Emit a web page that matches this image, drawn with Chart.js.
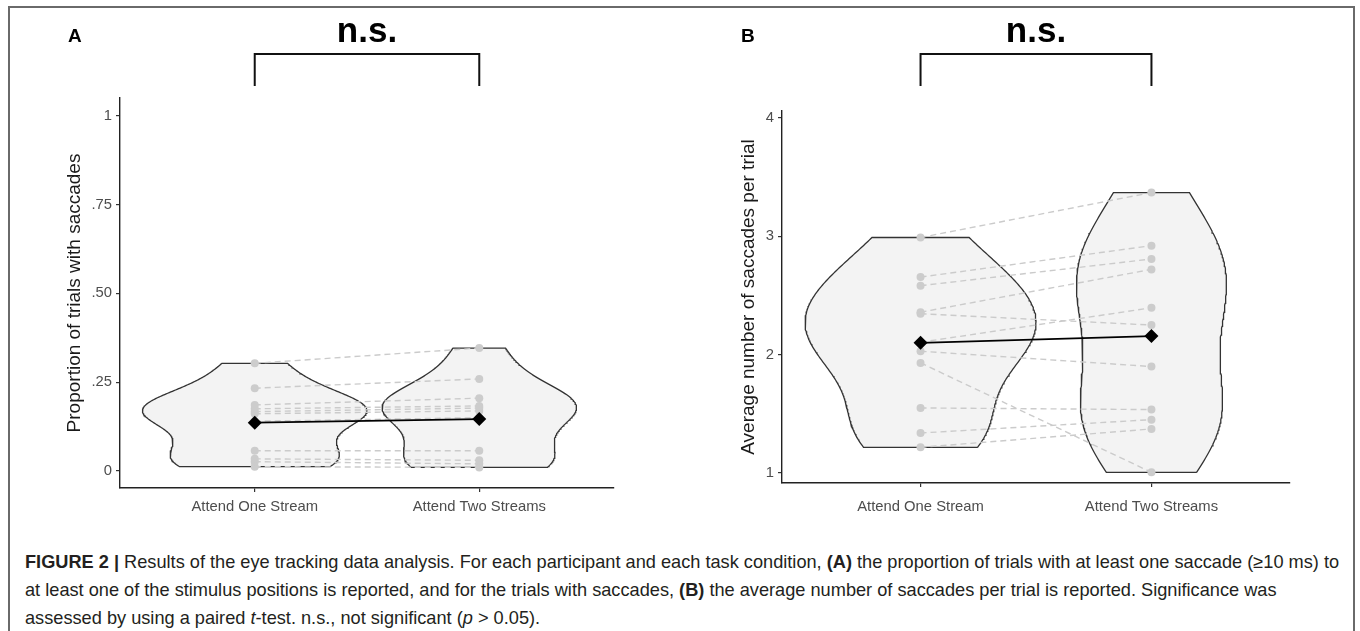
<!DOCTYPE html>
<html>
<head>
<meta charset="utf-8">
<script src="https://cdn.jsdelivr.net/npm/chart.js@4.4.1/dist/chart.umd.min.js"></script>
<style>
  body { margin: 0; width: 1360px; height: 631px; background: #fff; overflow: hidden; position: relative;
         font-family: "Liberation Sans", Arial, Helvetica, sans-serif; }
  #frame { position: absolute; left: 8px; top: 6px; width: 1347px; height: 660px; border: 2px solid #6a6a6a; box-sizing: border-box; }
  canvas { position: absolute; top: 0; }
  #chartA { left: 0; }
  #chartB { left: 680px; }
  #caption { position: absolute; left: 25px; top: 548px; font-size: 18.2px; line-height: 28px; color: #231f20; white-space: nowrap; }
</style>
</head>
<body>
<div id="frame"></div>
<canvas id="chartA" width="680" height="520"></canvas>
<canvas id="chartB" width="680" height="520"></canvas>
<div id="caption"><b>FIGURE 2 |</b> Results of the eye tracking data analysis. For each participant and each task condition, <b>(A)</b> the proportion of trials with at least one saccade (≥10 ms) to<br>at least one of the stimulus positions is reported, and for the trials with saccades, <b>(B)</b> the average number of saccades per trial is reported. Significance was<br>assessed by using a paired <i>t</i>-test. n.s., not significant (<i>p</i> &gt; 0.05).</div>
<script>
// conditions on the x axis
const categories = ["Attend One Stream", "Attend Two Streams"];

// panel A: proportion of trials with saccades, one value per participant (same order in both arrays)
const propOne = [0.303, 0.233, 0.186, 0.175, 0.167, 0.161, 0.140, 0.057, 0.034, 0.026, 0.012];
const propTwo = [0.346, 0.259, 0.205, 0.183, 0.177, 0.169, 0.150, 0.057, 0.030, 0.020, 0.010];
const propTicks = [0, 0.25, 0.5, 0.75, 1];
const propTickLabels = ["0", ".25", ".50", ".75", "1"];

// panel B: average number of saccades per trial
const sacOne = [2.99, 2.655, 2.582, 2.358, 2.345, 2.104, 2.028, 1.929, 1.548, 1.336, 1.215];
const sacTwo = [3.37, 2.921, 2.808, 2.720, 2.249, 2.395, 1.898, 1.003, 1.534, 1.449, 1.370];
const sacTicks = [1, 2, 3, 4];
const sacTickLabels = ["1", "2", "3", "4"];

const FONT = '"Liberation Sans", Arial, Helvetica, sans-serif';

function mean(v) { return v.reduce((a, b) => a + b, 0) / v.length; }

function quantile(s, p) {
  const h = (s.length - 1) * p, lo = Math.floor(h);
  const hi = Math.min(lo + 1, s.length - 1);
  return s[lo] + (h - lo) * (s[hi] - s[lo]);
}

// same rule as R's bw.nrd0
function bwNrd0(v) {
  const n = v.length, m = mean(v);
  const sd = Math.sqrt(v.reduce((a, b) => a + (b - m) * (b - m), 0) / (n - 1));
  const s = [...v].sort((a, b) => a - b);
  let lo = Math.min(sd, (quantile(s, 0.75) - quantile(s, 0.25)) / 1.34);
  if (!lo) lo = sd || 1;
  return 0.9 * lo * Math.pow(n, -0.2);
}

// gaussian kde, trimmed to the data range (like geom_violin trim = TRUE)
function density(v, n = 160) {
  const bw = bwNrd0(v);
  const min = Math.min(...v), max = Math.max(...v);
  const out = [];
  for (let i = 0; i < n; i++) {
    const y = min + (max - min) * i / (n - 1);
    let d = 0;
    for (const x of v) d += Math.exp(-0.5 * ((y - x) / bw) ** 2);
    out.push({ y: y, d: d / (v.length * bw * Math.sqrt(2 * Math.PI)) });
  }
  return out;
}

// outlines of the violins, scaled by area (shared max density)
function violinShapes(groups) {
  const dens = groups.map(g => density(g));
  const maxD = Math.max(...dens.flat().map(p => p.d));
  return dens.map((ds, i) => {
    const c = i + 1;
    const right = ds.map(p => ({ x: c + 0.5 * p.d / maxD, y: p.y }));
    const left = ds.slice().reverse().map(p => ({ x: c - 0.5 * p.d / maxD, y: p.y }));
    return right.concat(left, [right[0]]);
  });
}

const bracketPlugin = {
  id: 'bracket',
  afterDraw(chart, args, o) {
    const { ctx, scales: { x } } = chart;
    const x1 = x.getPixelForValue(1), x2 = x.getPixelForValue(2);
    ctx.save();
    ctx.strokeStyle = '#111';
    ctx.lineWidth = 2;
    ctx.beginPath();
    ctx.moveTo(x1, o.bottom);
    ctx.lineTo(x1, o.top);
    ctx.lineTo(x2, o.top);
    ctx.lineTo(x2, o.bottom);
    ctx.stroke();
    ctx.fillStyle = '#000';
    ctx.textAlign = 'center';
    ctx.textBaseline = 'alphabetic';
    ctx.font = 'bold 35px ' + FONT;
    ctx.fillText('n.s.', (x1 + x2) / 2, 42);
    ctx.textAlign = 'left';
    ctx.font = 'bold 19px ' + FONT;
    ctx.fillText(o.panel, o.panelX, 42);
    ctx.restore();
  }
};

function makePanel(id, one, two, cfg) {
  const shapes = violinShapes([one, two]);
  const datasets = [];
  shapes.forEach(s => datasets.push({
    data: s, borderColor: '#333', borderWidth: 1.3, backgroundColor: '#f3f3f3',
    fill: 'shape', pointRadius: 0, tension: 0, order: 3
  }));
  one.forEach((v, i) => datasets.push({
    data: [{ x: 1, y: v }, { x: 2, y: two[i] }],
    borderColor: '#cbcbcb', borderWidth: 1.4, borderDash: [6, 4],
    pointRadius: 4, pointBackgroundColor: '#cccccc', pointBorderWidth: 0, fill: false, order: 2
  }));
  datasets.push({
    data: [{ x: 1, y: mean(one) }, { x: 2, y: mean(two) }],
    borderColor: '#000', borderWidth: 1.8, pointStyle: 'rectRot', pointRadius: 7,
    pointBackgroundColor: '#000', pointBorderWidth: 0, fill: false, order: 1
  });

  return new Chart(document.getElementById(id), {
    type: 'line',
    data: { datasets: datasets },
    plugins: [bracketPlugin],
    options: {
      responsive: false,
      animation: false,
      layout: { padding: { top: cfg.top, right: cfg.right, left: 0, bottom: 0 } },
      plugins: {
        legend: { display: false },
        tooltip: { enabled: false },
        bracket: { top: 54, bottom: 86, panel: cfg.panel, panelX: cfg.panelX }
      },
      scales: {
        x: {
          type: 'linear', min: 0.4, max: 2.6,
          afterBuildTicks: s => { s.ticks = [{ value: 1 }, { value: 2 }]; },
          afterFit: s => { s.height = cfg.xHeight; },
          grid: { drawOnChartArea: false, color: '#333', tickLength: 4, lineWidth: 1.2 },
          border: { color: '#222', width: 1.4 },
          ticks: { callback: v => categories[v - 1], color: '#4d4d4d', font: { family: FONT, size: 14.8 },
                   padding: cfg.xPad, maxRotation: 0, autoSkip: false }
        },
        y: {
          type: 'linear', min: cfg.yMin, max: cfg.yMax,
          afterBuildTicks: s => { s.ticks = cfg.ticks.map(v => ({ value: v })); },
          afterFit: s => { s.width = cfg.yWidth; },
          grid: { drawOnChartArea: false, color: '#333', tickLength: 4, lineWidth: 1.2 },
          border: { color: '#222', width: 1.4 },
          ticks: { callback: (v, i) => cfg.labels[i], color: '#4d4d4d', font: { family: FONT, size: 14.8 }, padding: 4 },
          title: { display: true, text: cfg.title, color: '#1a1a1a', font: { family: FONT, size: 19 },
                   padding: { top: cfg.titlePad, bottom: 0 } }
        }
      }
    }
  });
}

makePanel('chartA', propOne, propTwo, {
  panel: 'A', panelX: 68, top: 98, right: 66, yWidth: 120, xHeight: 32, xPad: 6,
  yMin: -0.048, yMax: 1.05, ticks: propTicks, labels: propTickLabels,
  title: 'Proportion of trials with saccades', titlePad: 63
});

makePanel('chartB', sacOne, sacTwo, {
  panel: 'B', panelX: 61, top: 111, right: 70, yWidth: 102, xHeight: 37, xPad: 11,
  yMin: 0.913, yMax: 4.06, ticks: sacTicks, labels: sacTickLabels,
  title: 'Average number of saccades per trial', titlePad: 57
});
</script>
</body>
</html>
